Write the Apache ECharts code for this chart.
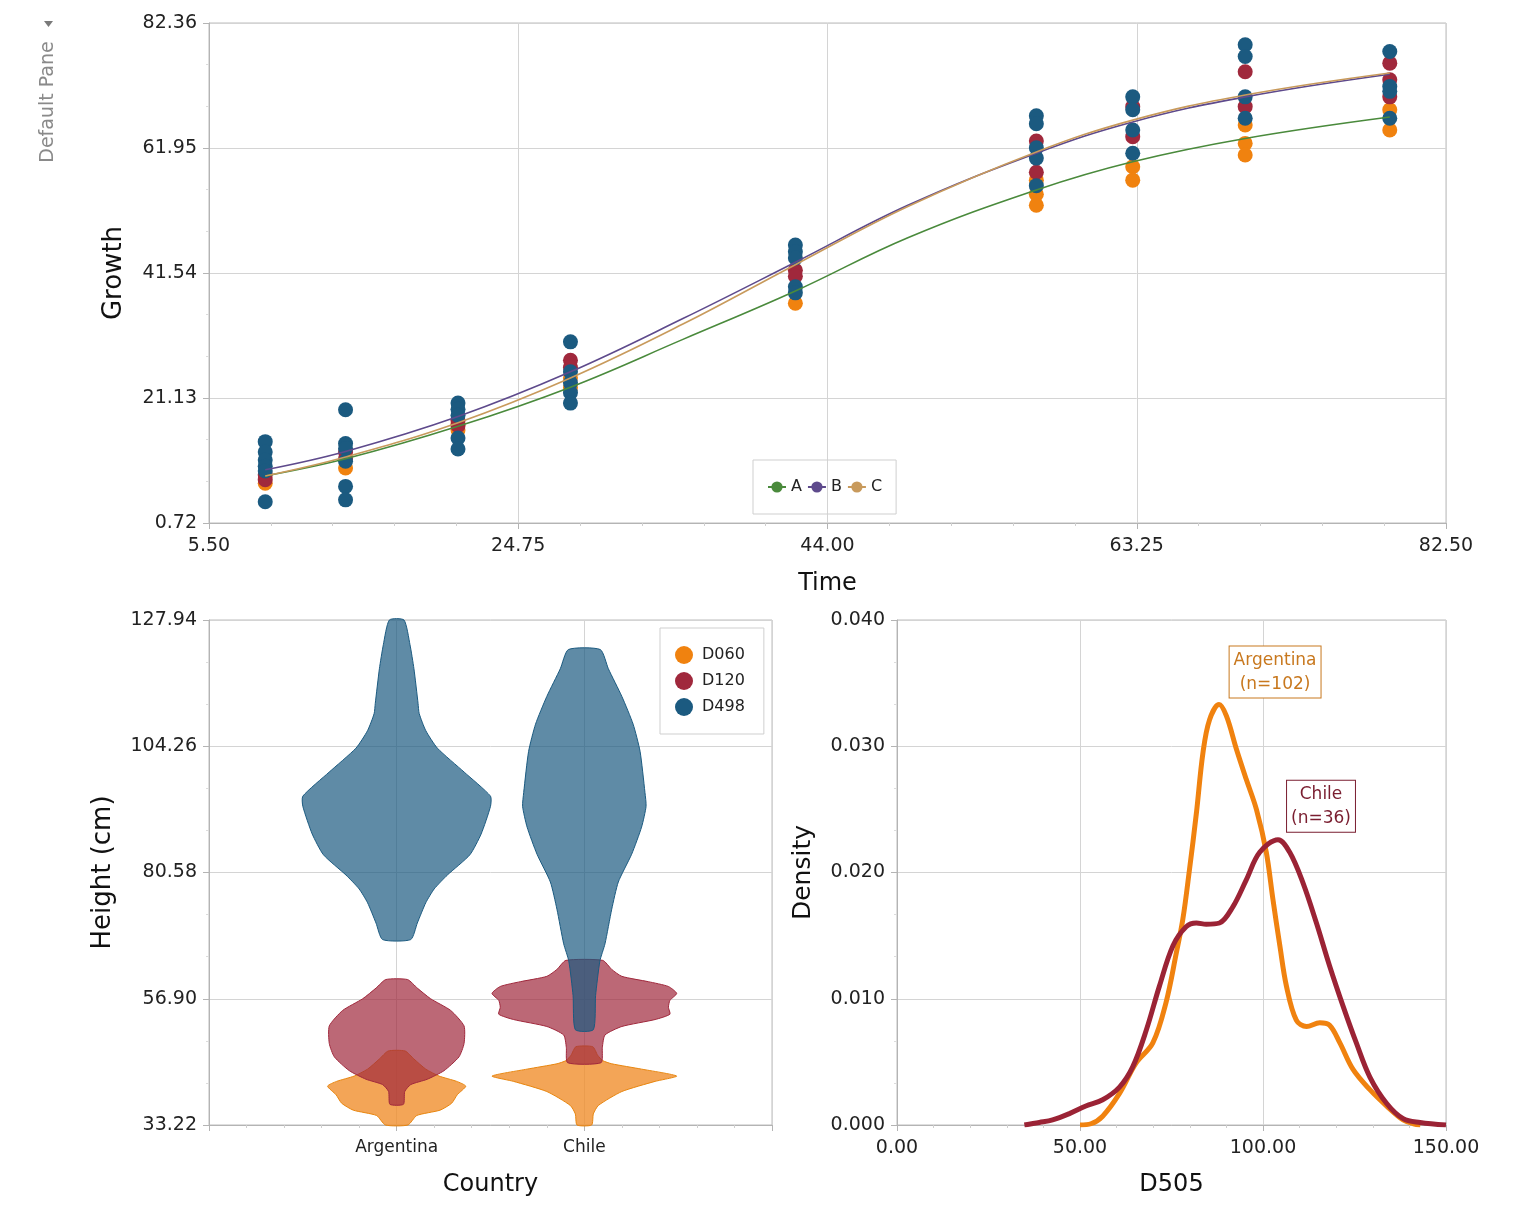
<!DOCTYPE html>
<html>
<head>
<meta charset="utf-8">
<title>Growth / Height / D505</title>
<style>
  html, body { margin: 0; padding: 0; background: #fff; }
  #main { width: 1535px; height: 1210px; }
</style>
<script src="https://cdn.jsdelivr.net/npm/echarts@6/dist/echarts.min.js"></script>
</head>
<body>
<div id="main"></div>
<script>
// ---- top panel: growth over time ----
const times = [9, 14, 21, 28, 42, 57, 63, 70, 79];
// measured points per time (one sub-array per time)
const d060Growth = [[7.2], [9.7], [15.9, 16.9], [24.4, 22.8], [36.6], [56.7, 54.4, 52.6], [58.9, 56.7], [65.7, 62.7, 60.8], [68.2, 64.9]];
const d120Growth = [[8.6, 7.8], [12.3, 11.2], [17.5, 16.6], [27.3, 26.1], [42.0, 41.0], [63.1, 58.0], [68.7, 63.8], [74.4, 68.7], [75.8, 73.1, 70.3]];
const d498Growth = [[14.0, 12.3, 11.0, 10.0, 9.2, 4.2], [19.2, 13.7, 12.9, 10.8, 6.7, 4.5], [20.3, 19.3, 18.3, 14.6, 12.8], [30.3, 25.4, 23.6, 22.0, 20.3], [46.1, 45.0, 44.0, 39.3, 38.3], [67.2, 65.9, 62.0, 60.3, 55.8], [70.3, 68.2, 64.9, 61.1], [78.8, 76.9, 70.3, 66.8], [77.7, 72.0, 71.2, 66.8]];

// fitted curves A, B, C
const fitTimes = [9, 14, 21, 28, 35, 42, 49, 57, 63, 70, 79];
const fitA = [8.4, 11.2, 16.5, 22.9, 30.7, 38.6, 47.3, 55.1, 59.7, 63.5, 67.0];
const fitB = [9.4, 12.4, 18.1, 25.4, 34.1, 43.3, 52.6, 61.1, 66.2, 70.3, 74.0];
const fitC = [8.4, 11.5, 17.1, 24.4, 33.2, 42.9, 52.4, 61.3, 66.5, 70.6, 74.2];

const yTicksTop = [0.72, 82.36, 20.41];   // min, max, step
const xTicksTop = [5.5, 82.5, 19.25];

// ---- bottom left: violins (height, half width in category units) ----
const countries = ['Argentina', 'Chile'];
const argD060H = [33.22, 35.0, 36.0, 37.3, 38.9, 40.5, 41.4, 42.4, 43.7, 45.6, 47.1];
const argD060W = [0.06, 0.107, 0.231, 0.293, 0.323, 0.368, 0.32, 0.226, 0.155, 0.092, 0.045];
const chlD060H = [33.22, 35.3, 36.9, 39.5, 41.4, 42.4, 43.7, 44.7, 45.3, 46.3, 47.9];
const chlD060W = [0.039, 0.048, 0.075, 0.2, 0.377, 0.492, 0.305, 0.146, 0.098, 0.071, 0.045];
const argD120H = [37.1, 39.5, 40.8, 41.8, 43.4, 46.0, 48.5, 51.8, 54.7, 56.9, 58.9, 60.5];
const argD120W = [0.036, 0.043, 0.075, 0.163, 0.252, 0.332, 0.359, 0.359, 0.288, 0.181, 0.11, 0.058];
const chlD120H = [44.9, 47.8, 50.1, 51.7, 53.0, 54.0, 55.3, 56.6, 57.9, 59.2, 60.1, 61.1, 62.4, 64.1];
const chlD120W = [0.089, 0.096, 0.11, 0.2, 0.377, 0.456, 0.448, 0.456, 0.492, 0.448, 0.341, 0.2, 0.146, 0.098];
const argD498H = [68.0, 71.1, 74.9, 77.5, 80.1, 83.9, 87.8, 93.0, 94.9, 99.4, 103.9, 107.2, 110.4, 112.3, 118.8, 123.3, 127.94];
const argD498W = [0.075, 0.11, 0.155, 0.2, 0.27, 0.39, 0.45, 0.5, 0.5, 0.36, 0.217, 0.155, 0.12, 0.114, 0.092, 0.071, 0.039];
const chlD498H = [51.1, 57.5, 64.0, 67.2, 73.7, 78.8, 84.0, 89.1, 93.0, 95.6, 103.3, 108.4, 113.6, 118.8, 122.4];
const chlD498W = [0.048, 0.06, 0.083, 0.11, 0.146, 0.181, 0.252, 0.305, 0.329, 0.323, 0.297, 0.26, 0.2, 0.128, 0.085];

// ---- bottom right: density of D505 ----
const argX = [50, 53, 56.2, 60.8, 65.3, 69.9, 73.5, 76.3, 78.1, 79.9, 81.8, 83.6, 85.4, 88.0, 90.0, 92.7, 95.4, 98.2, 100.9, 102.7, 104.6, 106.4, 109.1, 111.9, 115.5, 118.2, 121.0, 124.6, 129.2, 133.8, 138.3, 141.1, 143];
const argY = [0, 0.0001, 0.0007, 0.0025, 0.0049, 0.0065, 0.0097, 0.0136, 0.0163, 0.0202, 0.0247, 0.0295, 0.0321, 0.0333, 0.0324, 0.0298, 0.0274, 0.025, 0.0216, 0.0179, 0.0142, 0.011, 0.0083, 0.0078, 0.0081, 0.0079, 0.0065, 0.0044, 0.0028, 0.0015, 0.0004, 0.0001, 0];
const chlX = [34.8, 38.9, 42.5, 47.1, 51.6, 56.2, 60.8, 64.4, 68.1, 71.7, 75.4, 79.0, 81.8, 84.5, 88.1, 91.8, 95.4, 99.1, 104.1, 107.3, 110.9, 114.6, 118.2, 121.9, 125.5, 129.2, 133.8, 138.3, 142.9, 150];
const chlY = [0, 0.0002, 0.0004, 0.0009, 0.0015, 0.002, 0.003, 0.0046, 0.0075, 0.011, 0.0142, 0.0157, 0.016, 0.0159, 0.016, 0.0173, 0.0194, 0.0216, 0.0226, 0.0216, 0.0192, 0.016, 0.0126, 0.0094, 0.0065, 0.0038, 0.0017, 0.0005, 0.0002, 0];
const argCount = 102, chlCount = 36;

// colours
const cOrange = '#F0820F', cRed = '#A0283C', cBlue = '#1B5A80';
const FONT = "'DejaVu Sans', sans-serif";

let myChart = echarts.init(document.getElementById('main'));

// helpers
function toPoints(groups) {
  return groups.flatMap((g, i) => g.map(v => [times[i], v]));
}
function zipXY(xs, ys) {
  return xs.map((x, i) => [x, ys[i]]);
}
function axisBase(extra) {
  return Object.assign({
    axisLine: { show: true, lineStyle: { color: '#b4b4b4' } },
    axisTick: { show: true, length: 6, lineStyle: { color: '#b4b4b4' } },
    minorTick: { show: true, splitNumber: 3, length: 3, lineStyle: { color: '#dcdcdc' } },
    splitLine: { show: true, lineStyle: { color: '#d4d4d4' } },
    nameLocation: 'middle',
    nameTextStyle: { color: '#111', fontSize: 24, fontFamily: FONT }
  }, extra);
}
function numLabel(digits, margin) {
  return { color: '#222', fontSize: 19, fontFamily: FONT, margin: margin, formatter: v => v.toFixed(digits) };
}

// violin: polygon built from a height profile via the axes
const violinProfiles = {
  D060: [[argD060H, argD060W], [chlD060H, chlD060W]],
  D120: [[argD120H, argD120W], [chlD120H, chlD120W]],
  D498: [[argD498H, argD498W], [chlD498H, chlD498W]]
};
function violinSeries(name, color, fill) {
  return {
    name: name,
    type: 'custom',
    xAxisIndex: 1,
    yAxisIndex: 1,
    itemStyle: { color: color },
    data: countries.map((c, i) => [i + 1, violinProfiles[name][i][0][0]]),
    renderItem: function (params, api) {
      const idx = params.dataIndex;
      const cx = api.value(0);
      const [hs, ws] = violinProfiles[name][idx];
      const right = hs.map((h, k) => api.coord([cx + ws[k], h]));
      const left = hs.map((h, k) => api.coord([cx - ws[k], h])).reverse();
      return {
        type: 'polygon',
        shape: { points: right.concat(left), smooth: 0.2 },
        style: { fill: fill, stroke: color, lineWidth: 1 }
      };
    }
  };
}

function densityLabel(text, color, pos) {
  return {
    symbol: 'circle',
    symbolSize: 0,
    data: [{ type: 'max' }],
    label: {
      show: true,
      position: pos,
      formatter: text,
      color: color,
      fontSize: 17,
      fontFamily: FONT,
      lineHeight: 24,
      align: 'center',
      backgroundColor: '#fff',
      borderColor: color,
      borderWidth: 1,
      padding: [2, 4, 1, 4]
    }
  };
}

let option = {
  backgroundColor: '#fff',
  animation: false,
  textStyle: { fontFamily: FONT },
  grid: [
    { left: 209, top: 23, width: 1237, height: 500, show: true, borderColor: '#bcbcbc', backgroundColor: 'transparent' },
    { left: 209, top: 620, width: 563, height: 505, show: true, borderColor: '#bcbcbc', backgroundColor: 'transparent' },
    { left: 897, top: 620, width: 549, height: 505, show: true, borderColor: '#bcbcbc', backgroundColor: 'transparent' }
  ],
  legend: [
    {
      data: ['A', 'B', 'C'],
      left: 753, top: 460,
      padding: [19, 14, 19, 14],
      itemGap: 5, itemWidth: 18, itemHeight: 14,
      borderColor: '#cfcfcf', borderWidth: 1,
      textStyle: { fontSize: 16, color: '#222', fontFamily: FONT }
    },
    {
      data: ['D060', 'D120', 'D498'],
      orient: 'vertical',
      left: 660, top: 628,
      padding: [18, 19, 18, 15],
      itemGap: 8, itemWidth: 18, itemHeight: 18,
      icon: 'circle',
      borderColor: '#cfcfcf', borderWidth: 1,
      backgroundColor: '#fff',
      textStyle: { fontSize: 16, color: '#222', fontFamily: FONT, padding: [0, 0, 0, 4] }
    }
  ],
  xAxis: [
    axisBase({
      gridIndex: 0, type: 'value', name: 'Time', nameGap: 49,
      min: xTicksTop[0], max: xTicksTop[1], interval: xTicksTop[2],
      minorTick: { show: true, splitNumber: 5, length: 3, lineStyle: { color: '#cfcfcf' } },
      axisLabel: numLabel(2, 14)
    }),
    axisBase({
      gridIndex: 1, type: 'value', name: 'Country', nameGap: 48,
      min: 0, max: countries.length + 1, interval: 1,
      minorTick: { show: true, splitNumber: 5, length: 3, lineStyle: { color: '#cfcfcf' } },
      axisLabel: { color: '#222', fontSize: 17, fontFamily: FONT, margin: 14, formatter: v => countries[v - 1] || '' }
    }),
    axisBase({
      gridIndex: 2, type: 'value', name: 'D505', nameGap: 48,
      min: 0, max: 150, interval: 50,
      minorTick: { show: true, splitNumber: 5, length: 3, lineStyle: { color: '#cfcfcf' } },
      axisLabel: numLabel(2, 14)
    })
  ],
  yAxis: [
    axisBase({
      gridIndex: 0, type: 'value', name: 'Growth', nameGap: 82,
      min: yTicksTop[0], max: yTicksTop[1], interval: yTicksTop[2],
      nameTextStyle: { color: '#111', fontSize: 26, fontFamily: FONT },
      axisLabel: numLabel(2, 12)
    }),
    axisBase({
      gridIndex: 1, type: 'value', name: 'Height (cm)', nameGap: 93,
      min: 33.22, max: 127.94, interval: 23.68,
      nameTextStyle: { color: '#111', fontSize: 26, fontFamily: FONT },
      axisLabel: numLabel(2, 12)
    }),
    axisBase({
      gridIndex: 2, type: 'value', name: 'Density', nameGap: 81,
      min: 0, max: 0.04, interval: 0.01,
      nameTextStyle: { color: '#111', fontSize: 25, fontFamily: FONT },
      axisLabel: numLabel(3, 12)
    })
  ],
  series: [
    // top scatter
    { name: 'D060', type: 'scatter', xAxisIndex: 0, yAxisIndex: 0, symbolSize: 15, itemStyle: { color: cOrange, opacity: 1 }, data: toPoints(d060Growth), z: 2 },
    { name: 'D120', type: 'scatter', xAxisIndex: 0, yAxisIndex: 0, symbolSize: 15, itemStyle: { color: cRed, opacity: 1 }, data: toPoints(d120Growth), z: 2 },
    { name: 'D498', type: 'scatter', xAxisIndex: 0, yAxisIndex: 0, symbolSize: 15, itemStyle: { color: cBlue, opacity: 1 }, data: toPoints(d498Growth), z: 2 },
    // fitted lines
    { name: 'A', type: 'line', xAxisIndex: 0, yAxisIndex: 0, smooth: 0.4, symbol: 'circle', symbolSize: 10, showSymbol: false, itemStyle: { color: '#4A8A3C' }, lineStyle: { width: 1.6 }, data: zipXY(fitTimes, fitA), z: 3 },
    { name: 'B', type: 'line', xAxisIndex: 0, yAxisIndex: 0, smooth: 0.4, symbol: 'circle', symbolSize: 10, showSymbol: false, itemStyle: { color: '#5E4A8C' }, lineStyle: { width: 1.6 }, data: zipXY(fitTimes, fitB), z: 3 },
    { name: 'C', type: 'line', xAxisIndex: 0, yAxisIndex: 0, smooth: 0.4, symbol: 'circle', symbolSize: 10, showSymbol: false, itemStyle: { color: '#C89A5C' }, lineStyle: { width: 1.6 }, data: zipXY(fitTimes, fitC), z: 3 },
    // violins
    violinSeries('D060', '#E8860F', 'rgba(240,140,40,0.78)'),
    violinSeries('D120', '#A0283C', 'rgba(160,40,60,0.7)'),
    violinSeries('D498', '#1B5A80', 'rgba(27,90,128,0.7)'),
    // densities
    {
      name: 'Argentina', type: 'line', xAxisIndex: 2, yAxisIndex: 2, smooth: 0.35, showSymbol: false,
      lineStyle: { width: 5, color: cOrange }, itemStyle: { color: cOrange },
      data: zipXY(argX, argY),
      markPoint: densityLabel('Argentina\n(n=' + argCount + ')', '#C8781E', [56, -58])
    },
    {
      name: 'Chile', type: 'line', xAxisIndex: 2, yAxisIndex: 2, smooth: 0.35, showSymbol: false,
      lineStyle: { width: 5, color: '#9B2335' }, itemStyle: { color: '#9B2335' },
      data: zipXY(chlX, chlY),
      markPoint: densityLabel('Chile\n(n=' + chlCount + ')', '#7A1E30', [43, -59])
    }
  ],
  graphic: [
    { type: 'text', x: 48, y: 102, rotation: Math.PI / 2, style: { text: 'Default Pane', fill: '#8a8a8a', font: "19px 'DejaVu Sans'", align: 'center', verticalAlign: 'middle' } },
    { type: 'polygon', shape: { points: [[44, 21], [53, 21], [48.5, 27]] }, style: { fill: '#7a7a7a' } }
  ]
};

myChart.setOption(option);
</script>
</body>
</html>
